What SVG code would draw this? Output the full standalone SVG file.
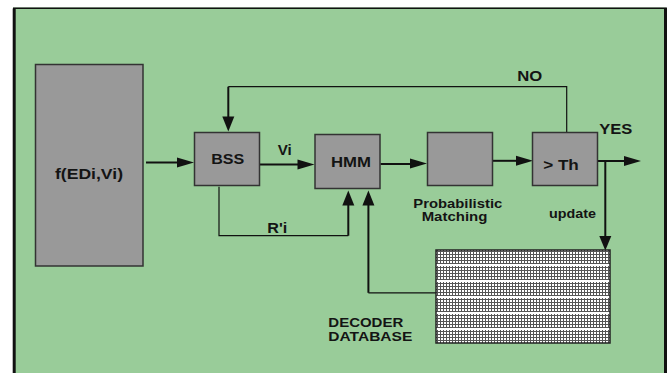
<svg xmlns="http://www.w3.org/2000/svg" width="667" height="373" viewBox="0 0 667 373">
<defs>
<style>
.box{fill:#999999;stroke:#333333;stroke-width:1.5}
.thin{fill:none;stroke:#111;stroke-width:1.2}
.thick{fill:none;stroke:#111;stroke-width:2}
.head{fill:#111;stroke:none}
.lbl{font-family:"Liberation Sans",Arial,Helvetica,sans-serif;font-weight:bold;fill:#141414}
.big{font-size:15px}
.small{font-size:12px}
</style>
<pattern id="grid" patternUnits="userSpaceOnUse" x="436" y="250" width="3" height="16">
<rect x="0" y="0" width="3" height="16" fill="#ffffff"/>
<rect x="1" y="0" width="1" height="14" fill="#555555"/>
<rect x="0" y="1" width="3" height="1" fill="#555555"/>
<rect x="0" y="4" width="3" height="1" fill="#555555"/>
<rect x="0" y="7" width="3" height="1" fill="#555555"/>
<rect x="0" y="10" width="3" height="1" fill="#555555"/>
<rect x="0" y="13" width="3" height="1" fill="#555555"/>
</pattern>
</defs>
<rect x="0" y="0" width="667" height="373" fill="#ffffff"/>
<g id="frame">
<rect x="13" y="7.5" width="653" height="370" fill="#99CC99"/>
<path d="M14.2 8.5 V373" stroke="#111" stroke-width="3" fill="none"/>
<path d="M13 8.2 H667" stroke="#111" stroke-width="1.6" fill="none"/>
<path d="M665.5 8 V373" stroke="#111" stroke-width="3" fill="none"/>
</g>
<g id="connectors">
<path class="thick" d="M146 162.5 H178"/>
<polygon class="head" points="194,162.5 177,157.5 177,167.5"/>
<path class="thick" d="M259 164.5 H298"/>
<polygon class="head" points="314.5,164.5 297.5,159.5 297.5,169.5"/>
<path class="thick" d="M380.5 164 H411"/>
<polygon class="head" points="427,163.5 410,158.5 410,168.5"/>
<path class="thick" d="M488 160.8 H517"/>
<polygon class="head" points="533,160.8 516,155.8 516,165.8"/>
<path class="thick" d="M596 161 H625"/>
<polygon class="head" points="641,161 624,156 624,166"/>
<path class="thick" d="M605.3 161 V236"/>
<polygon class="head" points="605.3,250.5 599.3,236 611.3,236"/>
<path class="thin" d="M566.7 133 V86.7 H228.3"/>
<path class="thick" d="M228.3 86.7 V117"/>
<polygon class="head" points="228.3,131.5 222.3,116.5 234.3,116.5"/>
<path class="thin" d="M219 186.7 V235.7 H348.3"/>
<path class="thick" d="M348.3 235.7 V205"/>
<polygon class="head" points="348.3,190.5 342.3,205.5 354.3,205.5"/>
<path class="thin" d="M436 292.8 H368.4"/>
<path class="thick" d="M368.4 292.8 V205"/>
<polygon class="head" points="368.4,190.5 362.4,205.5 374.4,205.5"/>
</g>
<g id="f-node">
<rect class="box" x="35.5" y="64.5" width="107.5" height="201.5"/>
<text class="lbl big" x="89" y="179" text-anchor="middle" textLength="68" lengthAdjust="spacingAndGlyphs">f(EDi,Vi)</text>
</g>
<g id="bss-node">
<rect class="box" x="194.5" y="132.5" width="65" height="53"/>
<text class="lbl big" x="227.7" y="164" text-anchor="middle" textLength="33" lengthAdjust="spacingAndGlyphs">BSS</text>
</g>
<g id="hmm-node">
<rect class="box" x="315" y="134.5" width="65" height="54"/>
<text class="lbl big" x="351" y="167.3" text-anchor="middle" textLength="40" lengthAdjust="spacingAndGlyphs">HMM</text>
</g>
<g id="prob-node">
<rect class="box" x="427.5" y="132.5" width="65" height="53"/>
<text class="lbl small" x="457.8" y="207.7" text-anchor="middle" textLength="89" lengthAdjust="spacingAndGlyphs">Probabilistic</text>
<text class="lbl small" x="454.5" y="220.5" text-anchor="middle" textLength="65.7" lengthAdjust="spacingAndGlyphs">Matching</text>
</g>
<g id="th-node">
<rect class="box" x="532.5" y="132.5" width="65" height="53"/>
<text class="lbl big" x="561" y="170" text-anchor="middle" textLength="35.7" lengthAdjust="spacingAndGlyphs">&gt; Th</text>
</g>
<g id="db-node">
<rect x="436" y="250" width="174" height="93" fill="url(#grid)" stroke="#222" stroke-width="1.5"/>
<text class="lbl small" x="328.3" y="327.3" textLength="75" lengthAdjust="spacingAndGlyphs">DECODER</text>
<text class="lbl small" x="328.3" y="340.7" textLength="84" lengthAdjust="spacingAndGlyphs">DATABASE</text>
</g>
<g id="labels">
<text class="lbl big" x="284.7" y="155" text-anchor="middle" textLength="14" lengthAdjust="spacingAndGlyphs">Vi</text>
<text class="lbl big" x="277.3" y="233.3" text-anchor="middle" textLength="20" lengthAdjust="spacingAndGlyphs">R'i</text>
<text class="lbl big" x="529.8" y="80.7" text-anchor="middle" textLength="25" lengthAdjust="spacingAndGlyphs">NO</text>
<text class="lbl big" x="615.8" y="134" text-anchor="middle" textLength="33" lengthAdjust="spacingAndGlyphs">YES</text>
<text class="lbl small" x="572.5" y="217.7" text-anchor="middle" textLength="47" lengthAdjust="spacingAndGlyphs">update</text>
</g>
</svg>
